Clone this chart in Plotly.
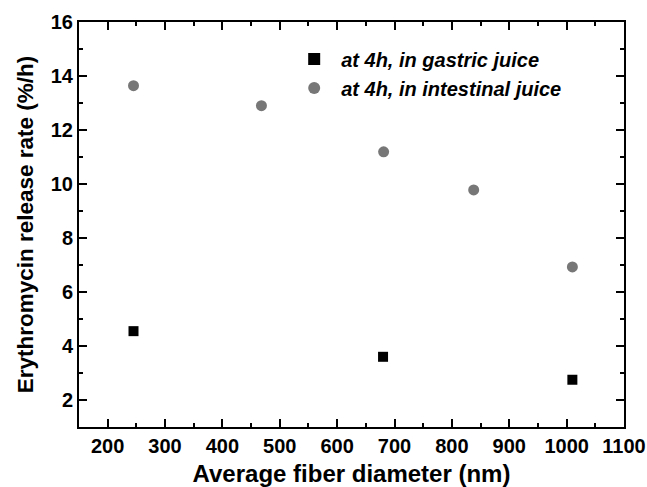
import plotly.graph_objects as go

gastric_x = [245, 680, 1010]
gastric_y = [4.55, 3.6, 2.75]
intestinal_x = [245, 468, 681, 838, 1010]
intestinal_y = [13.64, 12.9, 11.19, 9.78, 6.93]

x_ticks = [200, 300, 400, 500, 600, 700, 800, 900, 1000, 1100]
y_ticks = [2, 4, 6, 8, 10, 12, 14, 16]

FONT = "Liberation Sans, Arial, sans-serif"

fig = go.Figure()
fig.add_trace(go.Scatter(
    x=gastric_x, y=gastric_y, mode="markers",
    name="at 4h, in gastric juice",
    marker=dict(symbol="square", size=10, color="black"),
))
fig.add_trace(go.Scatter(
    x=intestinal_x, y=intestinal_y, mode="markers",
    name="at 4h, in intestinal juice",
    marker=dict(symbol="circle", size=11, color="#777777"),
))

axis_common = dict(
    showline=True, linecolor="black", linewidth=2, mirror="allticks",
    ticks="inside", ticklen=8, tickwidth=2, tickcolor="black",
    showgrid=False, zeroline=False, automargin=False,
    tickfont=dict(family=FONT, size=20, color="black", weight="bold"),
)

fig.update_xaxes(
    range=[150, 1100], tickvals=x_ticks,
    minor=dict(dtick=50, ticks="inside", ticklen=4, tickwidth=2, tickcolor="black", showgrid=False),
    title=dict(text="Average fiber diameter (nm)", standoff=10,
               font=dict(family=FONT, size=24, color="black", weight="bold")),
    **axis_common,
)
fig.update_yaxes(
    range=[1, 16], tickvals=y_ticks,
    minor=dict(dtick=1, ticks="inside", ticklen=4, tickwidth=2, tickcolor="black", showgrid=False),
    title=dict(text="Erythromycin release rate (%/h)", standoff=11,
               font=dict(family=FONT, size=22.5, color="black", weight="bold")),
    **axis_common,
)

fig.update_layout(
    width=647, height=487,
    margin=dict(l=79, r=23, t=22, b=60),
    plot_bgcolor="white", paper_bgcolor="white",
    legend=dict(
        x=0.382, y=0.957, xanchor="left", yanchor="top",
        bgcolor="rgba(0,0,0,0)",
        font=dict(family=FONT, size=20, color="black", weight="bold", style="italic"),
        itemsizing="constant", itemwidth=44, tracegroupgap=0,
    ),
)

fig.write_html("out.html")
